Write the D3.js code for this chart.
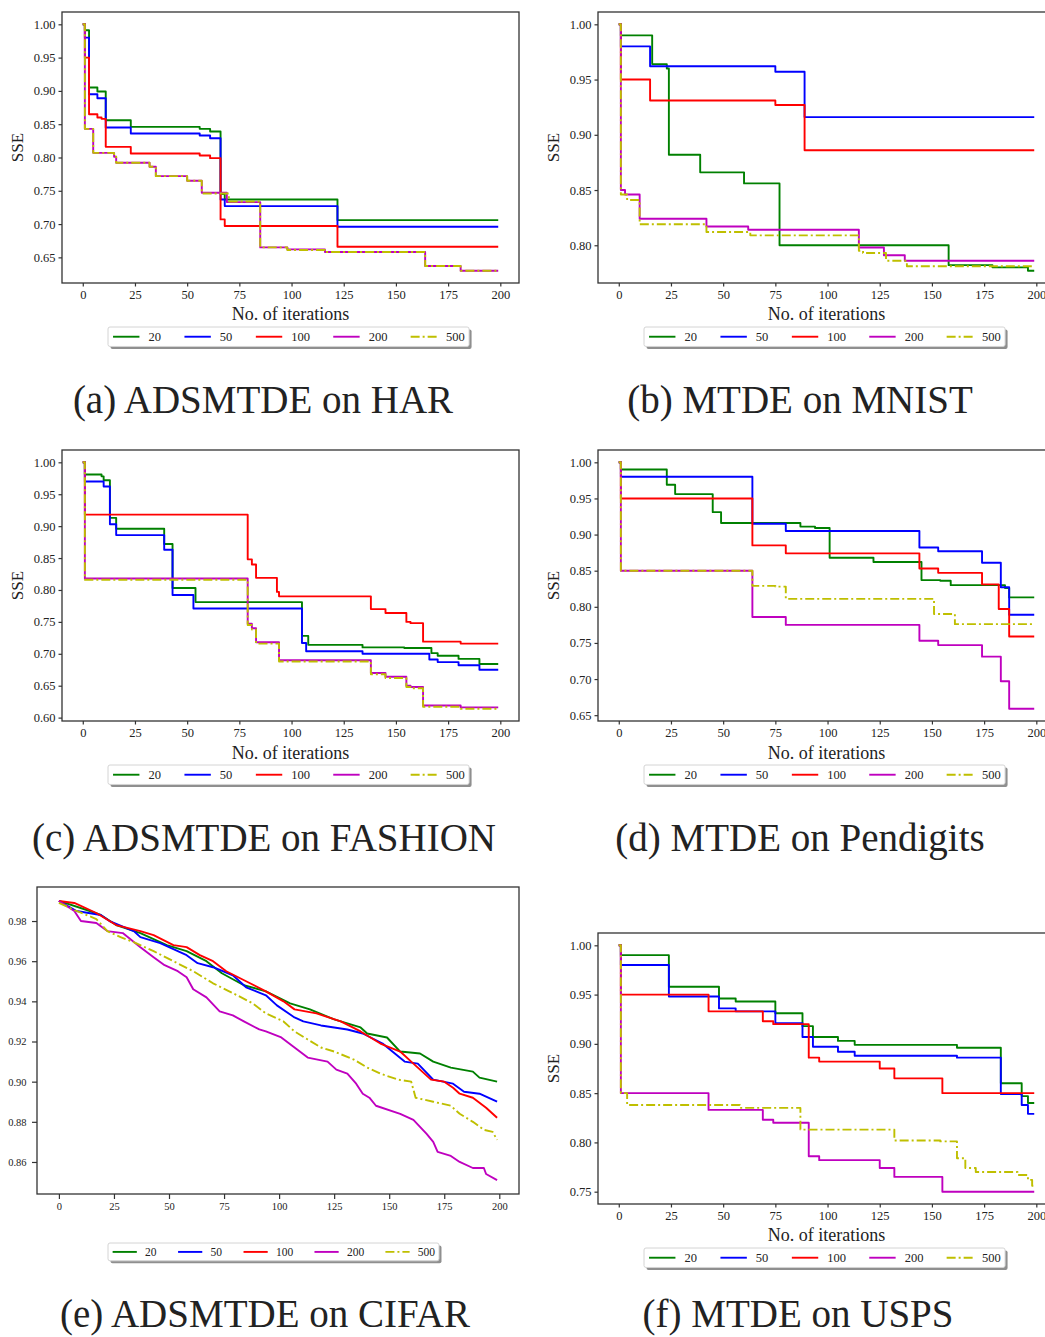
<!DOCTYPE html>
<html>
<head>
<meta charset="utf-8">
<script src="https://cdn.jsdelivr.net/npm/d3@7"></script>
<style>
  body { margin: 0; background: #fff; }
  svg { display: block; }
  text { font-family: "Liberation Serif", "Times New Roman", serif; fill: #222; }
</style>
</head>
<body>
<svg id="fig" width="1045" height="1337"></svg>
<script>
// population sizes (legend) and their colours
const popSizes = ["20", "50", "100", "200", "500"];
const popColors = ["#008000", "#0000ff", "#ff0000", "#bf00bf", "#bfbf00"];
const xTicks = [0, 25, 50, 75, 100, 125, 150, 175, 200];

// (a) ADSMTDE on HAR  -- [iteration, SSE] change points
const har20  = [[0,1.0],[1,0.991],[3,0.905],[7,0.899],[11,0.856],[23,0.846],[56,0.843],[61,0.839],[66,0.745],[68,0.737],[122,0.706],[199,0.706]];
const har50  = [[0,1.0],[1,0.980],[3,0.895],[7,0.889],[11,0.845],[23,0.836],[56,0.833],[61,0.829],[66,0.737],[68,0.727],[122,0.696],[199,0.696]];
const har100 = [[0,1.0],[1,0.950],[3,0.865],[7,0.860],[9,0.858],[11,0.816],[23,0.806],[56,0.803],[61,0.799],[66,0.707],[68,0.697],[122,0.666],[199,0.666]];
const har200 = [[0,1.0],[1,0.843],[5,0.807],[15,0.801],[16,0.792],[32,0.786],[35,0.772],[50,0.765],[57,0.747],[69,0.733],[85,0.665],[98,0.662],[116,0.658],[164,0.637],[181,0.630],[199,0.630]];
const har500 = [[0,1.0],[1,0.843],[5,0.807],[15,0.801],[16,0.792],[32,0.786],[35,0.772],[50,0.765],[57,0.746],[70,0.734],[85,0.665],[98,0.661],[116,0.658],[164,0.637],[181,0.630],[199,0.630]];
const harTicks = [0.65, 0.70, 0.75, 0.80, 0.85, 0.90, 0.95, 1.00];

// (b) MTDE on MNIST
const mnist20  = [[0,1.0],[1,0.990],[16,0.964],[23,0.960],[24,0.882],[39,0.866],[60,0.856],[77,0.800],[158,0.782],[179,0.780],[196,0.777],[199,0.777]];
const mnist50  = [[0,1.0],[1,0.980],[15,0.962],[75,0.957],[89,0.916],[199,0.916]];
const mnist100 = [[0,1.0],[1,0.950],[15,0.931],[75,0.927],[89,0.886],[199,0.886]];
const mnist200 = [[0,1.0],[1,0.850],[3,0.846],[10,0.824],[42,0.817],[62,0.814],[115,0.798],[127,0.791],[137,0.786],[199,0.786]];
const mnist500 = [[0,1.0],[1,0.846],[4,0.841],[10,0.819],[42,0.812],[63,0.809],[115,0.795],[117,0.793],[128,0.786],[138,0.781],[199,0.781]];
const mnistTicks = [0.80, 0.85, 0.90, 0.95, 1.00];

// (c) ADSMTDE on FASHION
const fash20  = [[0,1.0],[1,0.981],[9,0.978],[10,0.972],[13,0.913],[16,0.896],[39,0.872],[43,0.803],[54,0.781],[105,0.728],[108,0.714],[134,0.710],[154,0.709],[167,0.701],[170,0.697],[180,0.692],[190,0.684],[199,0.684]];
const fash50  = [[0,1.0],[1,0.970],[10,0.962],[13,0.903],[16,0.886],[39,0.863],[43,0.792],[53,0.771],[105,0.717],[107,0.704],[134,0.700],[166,0.691],[170,0.687],[180,0.682],[190,0.675],[199,0.675]];
const fash100 = [[0,1.0],[1,0.918],[79,0.848],[81,0.840],[83,0.819],[93,0.797],[94,0.790],[138,0.770],[145,0.764],[155,0.750],[157,0.748],[163,0.719],[181,0.716],[199,0.716]];
const fash200 = [[0,1.0],[1,0.818],[79,0.747],[81,0.740],[83,0.718],[94,0.690],[138,0.670],[145,0.664],[155,0.650],[157,0.648],[163,0.619],[181,0.616],[199,0.616]];
const fash500 = [[0,1.0],[1,0.816],[79,0.745],[81,0.738],[83,0.716],[94,0.688],[138,0.668],[145,0.662],[155,0.648],[157,0.646],[163,0.617],[181,0.614],[199,0.614]];
const fashTicks = [0.60, 0.65, 0.70, 0.75, 0.80, 0.85, 0.90, 0.95, 1.00];

// (d) MTDE on Pendigits
const pen20  = [[0,1.0],[1,0.990],[23,0.969],[27,0.956],[45,0.931],[49,0.916],[87,0.911],[94,0.909],[101,0.868],[122,0.862],[145,0.837],[154,0.836],[159,0.830],[185,0.826],[187,0.813],[199,0.813]];
const pen50  = [[0,1.0],[1,0.980],[64,0.915],[80,0.905],[144,0.882],[153,0.877],[174,0.861],[183,0.827],[187,0.789],[199,0.789]];
const pen100 = [[0,1.0],[1,0.950],[64,0.885],[80,0.874],[144,0.853],[153,0.847],[174,0.831],[182,0.797],[187,0.759],[199,0.759]];
const pen200 = [[0,1.0],[1,0.850],[64,0.786],[80,0.775],[144,0.753],[153,0.747],[174,0.731],[183,0.697],[187,0.659],[199,0.659]];
const pen500 = [[0,1.0],[1,0.850],[64,0.829],[75,0.828],[80,0.811],[151,0.790],[161,0.776],[199,0.776]];
const penTicks = [0.65, 0.70, 0.75, 0.80, 0.85, 0.90, 0.95, 1.00];

// (e) ADSMTDE on CIFAR (sampled along the curves)
const cif20  = [[0,0.990],[14,0.985],[19,0.983],[26,0.978],[37,0.974],[49,0.968],[58,0.965],[67,0.960],[74,0.954],[84,0.948],[94,0.945],[105,0.939],[114,0.936],[125,0.931],[137,0.927],[140,0.924],[149,0.922],[155,0.915],[164,0.914],[170,0.910],[178,0.907],[188,0.905],[191,0.902],[199,0.900]];
const cif50  = [[0,0.990],[8,0.985],[19,0.983],[23,0.980],[34,0.975],[37,0.972],[46,0.969],[58,0.963],[63,0.959],[70,0.957],[79,0.953],[85,0.947],[94,0.943],[99,0.938],[107,0.932],[111,0.930],[119,0.928],[131,0.926],[138,0.924],[147,0.919],[157,0.910],[163,0.909],[170,0.901],[179,0.899],[184,0.895],[191,0.894],[199,0.890]];
const cif100 = [[0,0.990],[7,0.989],[17,0.984],[26,0.978],[37,0.975],[43,0.973],[52,0.968],[58,0.967],[64,0.963],[70,0.960],[76,0.955],[85,0.950],[94,0.945],[102,0.940],[107,0.936],[117,0.934],[128,0.930],[137,0.925],[146,0.919],[155,0.915],[160,0.910],[169,0.901],[175,0.900],[179,0.897],[182,0.894],[188,0.892],[194,0.887],[199,0.882]];
const cif200 = [[0,0.990],[7,0.985],[10,0.980],[17,0.979],[22,0.975],[29,0.974],[37,0.967],[43,0.962],[48,0.958],[54,0.955],[58,0.952],[61,0.946],[67,0.942],[73,0.935],[79,0.933],[84,0.930],[91,0.926],[94,0.925],[101,0.922],[107,0.917],[113,0.912],[122,0.910],[126,0.906],[131,0.904],[135,0.899],[138,0.894],[141,0.892],[144,0.888],[155,0.884],[161,0.881],[167,0.874],[170,0.870],[172,0.865],[178,0.863],[182,0.860],[188,0.857],[193,0.857],[194,0.854],[199,0.851]];
const cif500 = [[0,0.989],[8,0.985],[17,0.981],[22,0.975],[28,0.972],[35,0.969],[43,0.965],[52,0.960],[61,0.955],[70,0.949],[81,0.943],[88,0.939],[94,0.934],[102,0.930],[107,0.925],[113,0.921],[119,0.917],[125,0.915],[134,0.911],[140,0.907],[146,0.904],[154,0.901],[160,0.900],[162,0.892],[170,0.890],[178,0.888],[182,0.884],[188,0.880],[193,0.876],[197,0.875],[199,0.871]];
const cifTicks = [0.86, 0.88, 0.90, 0.92, 0.94, 0.96, 0.98];

// (f) MTDE on USPS
const usps20  = [[0,1.0],[1,0.990],[24,0.958],[48,0.946],[56,0.943],[75,0.931],[88,0.918],[93,0.907],[105,0.903],[113,0.899],[162,0.896],[183,0.860],[193,0.847],[196,0.840],[199,0.840]];
const usps50  = [[0,1.0],[1,0.980],[24,0.948],[48,0.936],[56,0.933],[75,0.921],[88,0.907],[93,0.897],[105,0.892],[113,0.888],[162,0.886],[183,0.849],[193,0.838],[196,0.829],[199,0.829]];
const usps100 = [[0,1.0],[1,0.950],[43,0.933],[69,0.923],[74,0.920],[91,0.886],[96,0.882],[125,0.875],[132,0.865],[155,0.850],[199,0.850]];
const usps200 = [[0,1.0],[1,0.850],[43,0.833],[69,0.823],[74,0.820],[91,0.786],[96,0.782],[125,0.774],[132,0.765],[155,0.750],[199,0.750]];
const usps500 = [[0,1.0],[1,0.850],[4,0.838],[58,0.835],[87,0.813],[132,0.802],[154,0.801],[162,0.784],[166,0.774],[171,0.770],[191,0.767],[196,0.762],[198,0.756],[199,0.756]];
const uspsTicks = [0.75, 0.80, 0.85, 0.90, 0.95, 1.00];

const svg = d3.select("#fig");

const panels = [
  { id: "a", series: [har20, har50, har100, har200, har500], yTicks: harTicks, step: true,
    box: [62, 519, 12, 283], xlabelY: 320, legendY: 327, fs: 12, legendX: 108,
    caption: "(a) ADSMTDE on HAR", capX: 263, capY: 413 },
  { id: "b", series: [mnist20, mnist50, mnist100, mnist200, mnist500], yTicks: mnistTicks, step: true,
    box: [598, 1055, 12, 283], xlabelY: 320, legendY: 327, fs: 12, legendX: 644,
    caption: "(b) MTDE on MNIST", capX: 800, capY: 413 },
  { id: "c", series: [fash20, fash50, fash100, fash200, fash500], yTicks: fashTicks, step: true,
    box: [62, 519, 450, 721], xlabelY: 759, legendY: 765, fs: 12, legendX: 108,
    caption: "(c) ADSMTDE on FASHION", capX: 264, capY: 851 },
  { id: "d", series: [pen20, pen50, pen100, pen200, pen500], yTicks: penTicks, step: true,
    box: [598, 1055, 450, 721], xlabelY: 759, legendY: 765, fs: 12, legendX: 644,
    caption: "(d) MTDE on Pendigits", capX: 800, capY: 851 },
  { id: "e", series: [cif20, cif50, cif100, cif200, cif500], yTicks: cifTicks, step: false,
    box: [37, 519, 887, 1194], xlabelY: null, legendY: 1243, fs: 11, legendX: 108,
    caption: "(e) ADSMTDE on CIFAR", capX: 265, capY: 1327 },
  { id: "f", series: [usps20, usps50, usps100, usps200, usps500], yTicks: uspsTicks, step: true,
    box: [598, 1055, 933, 1204], xlabelY: 1241, legendY: 1248, fs: 12, legendX: 644,
    caption: "(f) MTDE on USPS", capX: 798, capY: 1327 }
];

function padded(ext) {
  const m = (ext[1] - ext[0]) * 0.05;
  return [ext[0] - m, ext[1] + m];
}

function dashFor(i) {
  return i === 4 ? "9,3,2,3" : null;
}

function drawLegend(g, x0, y0, fs) {
  const lineLen = fs * 2.2, txtPad = fs * 0.75, colGap = fs * 2, digitW = fs * 0.5;
  let cx = x0 + fs * 0.42;
  const items = [];
  popSizes.forEach((s, i) => {
    items.push({ s, i, lx: cx, tx: cx + lineLen + txtPad });
    cx += lineLen + txtPad + s.length * digitW + colGap;
  });
  const w = cx - colGap + fs * 0.42 - x0;
  const h = fs * 1.62;
  g.append("rect").attr("x", x0 + 2.5).attr("y", y0 + 2.5).attr("width", w).attr("height", h)
    .attr("rx", 2).attr("fill", "#8f8f8f");
  g.append("rect").attr("x", x0).attr("y", y0).attr("width", w).attr("height", h)
    .attr("rx", 2).attr("fill", "#fff").attr("stroke", "#d4d4d4").attr("stroke-width", 1);
  const cy = y0 + h / 2;
  items.forEach(it => {
    g.append("line").attr("x1", it.lx).attr("x2", it.lx + lineLen).attr("y1", cy).attr("y2", cy)
      .attr("stroke", popColors[it.i]).attr("stroke-width", 1.9)
      .attr("stroke-dasharray", dashFor(it.i));
    g.append("text").attr("x", it.tx).attr("y", cy + fs * 0.36).attr("font-size", fs + 0.5).text(it.s);
  });
}

function drawPanel(p) {
  const [left, right, top, bottom] = p.box;
  const g = svg.append("g").attr("class", "panel-" + p.id);
  const all = p.series.flat();
  const x = d3.scaleLinear().domain(padded(d3.extent(all, d => d[0]))).range([left, right]);
  const y = d3.scaleLinear().domain(padded(d3.extent(all, d => d[1]))).range([bottom, top]);

  g.append("clipPath").attr("id", "clip-" + p.id)
    .append("rect").attr("x", left).attr("y", top).attr("width", right - left).attr("height", bottom - top);

  const line = d3.line().x(d => x(d[0])).y(d => y(d[1]))
    .curve(p.step ? d3.curveStepAfter : d3.curveLinear);

  const lines = g.append("g").attr("clip-path", `url(#clip-${p.id})`);
  p.series.forEach((s, i) => {
    lines.append("path").datum(s).attr("d", line)
      .attr("fill", "none").attr("stroke", popColors[i]).attr("stroke-width", 1.9)
      .attr("stroke-linejoin", "round")
      .attr("stroke-dasharray", dashFor(i));
  });

  const small = p.id === "e";
  const tfs = small ? 10.5 : 12.5;
  const tlen = small ? 5 : 3.5;
  const xAxis = g.append("g").attr("transform", `translate(0,${bottom})`)
    .call(d3.axisBottom(x).tickValues(xTicks).tickSize(tlen).tickPadding(4).tickFormat(d3.format("d")));
  const yAxis = g.append("g").attr("transform", `translate(${left},0)`)
    .call(d3.axisLeft(y).tickValues(p.yTicks).tickSize(tlen).tickPadding(small ? 5.5 : 3).tickFormat(d3.format(".2f")));
  [xAxis, yAxis].forEach(a => {
    a.select(".domain").remove();
    a.selectAll(".tick line").attr("stroke", "#333").attr("stroke-width", 1.2);
    a.selectAll(".tick text").attr("font-size", tfs).attr("fill", "#222")
      .style("font-family", '"Liberation Serif","Times New Roman",serif');
  });

  g.append("rect").attr("x", left).attr("y", top).attr("width", right - left).attr("height", bottom - top)
    .attr("fill", "none").attr("stroke", "#333").attr("stroke-width", 1.3);

  if (p.xlabelY !== null) {
    g.append("text").attr("x", left + 228.5).attr("y", p.xlabelY).attr("text-anchor", "middle")
      .attr("font-size", 18).text("No. of iterations");
    g.append("text").attr("transform", `translate(${left - 39},${(top + bottom) / 2}) rotate(-90)`)
      .attr("text-anchor", "middle").attr("font-size", 17).text("SSE");
  }

  drawLegend(g, p.legendX, p.legendY, p.fs);

  g.append("text").attr("x", p.capX).attr("y", p.capY).attr("text-anchor", "middle")
    .attr("font-size", 39).text(p.caption);
}

panels.forEach(drawPanel);
</script>
</body>
</html>
